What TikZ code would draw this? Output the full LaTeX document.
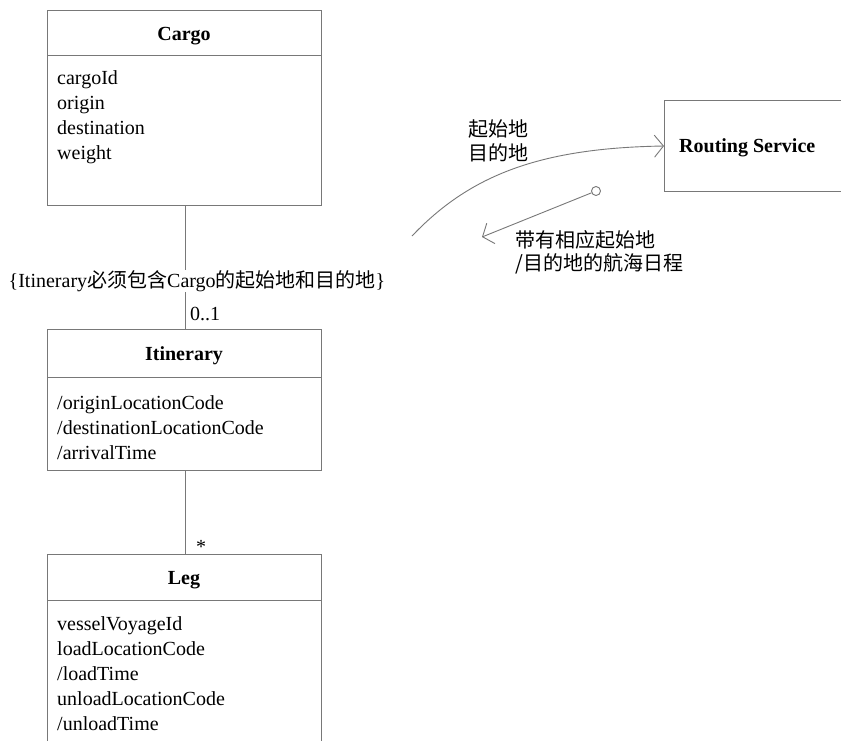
\documentclass[tikz,border=0pt]{standalone}
\usepackage{fontspec}
\setmainfont{Liberation Serif}
\newfontfamily\cjk{Noto Sans CJK SC}
\usetikzlibrary{arrows.meta}
\definecolor{ln}{RGB}{120,120,120}
\begin{document}
\begin{tikzpicture}[x=1pt,y=-1pt,
  every node/.style={font=\fontsize{20}{25}\selectfont},
  umlbox/.style={draw=ln,line width=1pt,anchor=north west,minimum width=274pt,inner sep=0pt,outer sep=0pt},
  ttl/.style={font=\fontsize{20}{25}\selectfont\bfseries,inner sep=0pt},
  attrs/.style={align=left,anchor=north west,inner sep=0pt},
  conn/.style={draw=ln,line width=0.9pt},
  barb/.style={-{Straight Barb[length=9pt,width=22pt,line width=0.9pt]}}
]
\useasboundingbox (0,0) rectangle (841,740);
\clip (0,0) rectangle (841,740);
\fill[white] (0,0) rectangle (841,740);

% Cargo
\node[umlbox,minimum height=195pt] (cargo) at (47,10) {};
\draw[conn] ([yshift=-45pt]cargo.north west) -- ([yshift=-45pt]cargo.north east);
\node[ttl] (cargot) at (184,36) {Cargo};
\node[attrs] (cargoa) at (57,70) {cargoId\\origin\\destination\\weight};

% Itinerary
\node[umlbox,minimum height=141pt] (itin) at (47,329) {};
\draw[conn] ([yshift=-48pt]itin.north west) -- ([yshift=-48pt]itin.north east);
\node[ttl] (itint) at (184,356) {Itinerary};
\node[attrs] (itina) at (57,395) {/originLocationCode\\/destinationLocationCode\\/arrivalTime};

% Leg
\node[umlbox,minimum height=220pt] (leg) at (47,554) {};
\draw[conn] ([yshift=-46pt]leg.north west) -- ([yshift=-46pt]leg.north east);
\node[ttl] (legt) at (184,580) {Leg};
\node[attrs] (lega) at (57,616) {vesselVoyageId\\loadLocationCode\\/loadTime\\unloadLocationCode\\/unloadTime};

% Routing Service
\node[umlbox,minimum width=200pt,minimum height=91pt] (rs) at (664,100) {};
\node[ttl,anchor=west] (rst) at (679,148) {Routing Service};

% associations
\coordinate (cb) at (185,205);
\coordinate (it) at (185,329);
\coordinate (ib) at (185,470);
\coordinate (lt) at (185,554);
\draw[conn] (cb) -- (it);
\draw[conn] (ib) -- (lt);
\node[inner sep=0pt,fill=white] (cons) at (197,281) {\{Itinerary{\cjk 必须包含}Cargo{\cjk 的起始地和目的地}\}};
\node[inner sep=0pt,anchor=west] (m01) at (190,314) {0..1};
\node[inner sep=0pt] (mstar) at (201,547) {*};

% messages
\coordinate (cs) at (412,236);
\coordinate (rw) at (664,146);
\draw[conn,barb] (cs) .. controls (470,175) and (540,148) .. (rw);
\node[inner sep=0pt,align=left,anchor=west,font=\fontsize{20}{24}\cjk] (m1) at (468,141) {起始地\\目的地};

\node[draw=ln,circle,line width=0.9pt,minimum size=9pt,inner sep=0pt,fill=white] (dot) at (596,191) {};
\coordinate (tip) at (482,237);
\draw[conn,barb] (dot) -- (tip);
\node[inner sep=0pt,align=left,anchor=west,font=\fontsize{20}{23}\cjk] (m2) at (515,252) {带有相应起始地\\/目的地的航海日程};
\end{tikzpicture}
\end{document}
